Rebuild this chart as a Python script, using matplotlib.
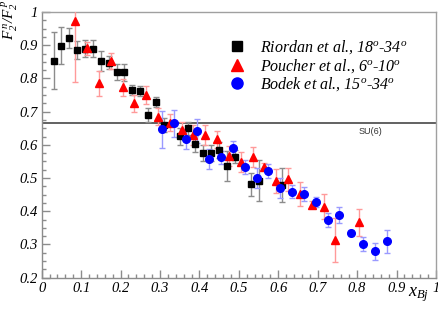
import matplotlib
matplotlib.use("Agg")
import matplotlib.pyplot as plt
from matplotlib.lines import Line2D
from matplotlib.ticker import MultipleLocator, FuncFormatter

plt.rcParams["font.family"] = "serif"
plt.rcParams["font.serif"] = ["Liberation Serif", "DejaVu Serif"]
plt.rcParams["font.style"] = "italic"
plt.rcParams["mathtext.fontset"] = "custom"
plt.rcParams["mathtext.rm"] = "Liberation Serif:italic"
plt.rcParams["mathtext.it"] = "Liberation Serif:italic"

# Riordan et al., 18-34 deg
riordan_x = [0.03, 0.05, 0.07, 0.09, 0.11, 0.13, 0.15, 0.17, 0.19, 0.21, 0.23, 0.25, 0.27,
             0.29, 0.31, 0.35, 0.37, 0.39, 0.41, 0.43, 0.45, 0.47, 0.49, 0.53, 0.55, 0.61]
riordan_y = [0.853, 0.899, 0.921, 0.885, 0.890, 0.890, 0.852, 0.847, 0.819, 0.818, 0.764, 0.761, 0.690,
             0.730, 0.660, 0.626, 0.650, 0.602, 0.575, 0.576, 0.585, 0.536, 0.564, 0.481, 0.492, 0.479]
riordan_err = [0.086, 0.057, 0.030, 0.027, 0.025, 0.025, 0.030, 0.020, 0.025, 0.025, 0.015, 0.015, 0.020,
               0.015, 0.020, 0.025, 0.020, 0.025, 0.025, 0.025, 0.025, 0.045, 0.020, 0.035, 0.062, 0.050]

# Poucher et al., 6-10 deg
poucher_x = [0.085, 0.115, 0.145, 0.175, 0.205, 0.235, 0.265, 0.295, 0.325, 0.355, 0.385, 0.415,
             0.445, 0.475, 0.505, 0.535, 0.565, 0.595, 0.625, 0.655, 0.685, 0.715, 0.745, 0.805]
poucher_y = [0.974, 0.891, 0.785, 0.852, 0.773, 0.725, 0.750, 0.685, 0.667, 0.645, 0.631, 0.629,
             0.617, 0.566, 0.549, 0.564, 0.534, 0.491, 0.496, 0.452, 0.420, 0.414, 0.313, 0.367]
poucher_err = [0.185, 0.020, 0.037, 0.025, 0.025, 0.025, 0.028, 0.025, 0.025, 0.025, 0.030, 0.030,
               0.025, 0.030, 0.030, 0.030, 0.010, 0.035, 0.035, 0.035, 0.010, 0.037, 0.066, 0.040]

# Bodek et al., 15-34 deg
bodek_x = [0.305, 0.335, 0.365, 0.395, 0.425, 0.455, 0.485, 0.515, 0.545, 0.575,
           0.605, 0.635, 0.665, 0.695, 0.725, 0.755, 0.785, 0.815, 0.845, 0.875]
bodek_y = [0.647, 0.665, 0.618, 0.642, 0.556, 0.562, 0.592, 0.533, 0.501, 0.521,
           0.471, 0.459, 0.452, 0.429, 0.374, 0.389, 0.335, 0.301, 0.279, 0.310]
bodek_err = [0.055, 0.040, 0.030, 0.036, 0.030, 0.020, 0.020, 0.020, 0.030, 0.020,
             0.030, 0.020, 0.020, 0.015, 0.020, 0.025, 0.010, 0.020, 0.025, 0.035]

su6 = 2.0 / 3.0

fig = plt.figure(figsize=(4.39, 3.12), dpi=100, facecolor="white")
ax = fig.add_axes([0.095, 0.110, 0.898, 0.8515])

ax.errorbar(riordan_x, riordan_y, yerr=riordan_err, fmt="s", color="black", ms=5,
            ecolor="#8c8c8c", elinewidth=1, capsize=2.2, capthick=1, zorder=3)
ax.errorbar(poucher_x, poucher_y, yerr=poucher_err, fmt="^", color="#ff0000", ms=5.5,
            ecolor="#ff9a9a", elinewidth=1, capsize=2.2, capthick=1, zorder=3)
ax.errorbar(bodek_x, bodek_y, yerr=bodek_err, fmt="o", color="#0000ff", ms=5.5,
            ecolor="#9a9aff", elinewidth=1, capsize=2.2, capthick=1, zorder=3)

ax.axhline(su6, color="#555555", lw=1.3, zorder=2)
ax.text(0.835, su6 - 0.012, "SU(6)", fontsize=6.5, family="Liberation Sans", style="normal",
        color="#333333", ha="center", va="top")

ax.set_xlim(0, 1)
ax.set_ylim(0.2, 1)
ax.xaxis.set_major_locator(MultipleLocator(0.1))
ax.xaxis.set_minor_locator(MultipleLocator(0.02))
ax.yaxis.set_major_locator(MultipleLocator(0.1))
ax.yaxis.set_minor_locator(MultipleLocator(0.025))
fmt = FuncFormatter(lambda v, p: "%g" % round(v, 2))
ax.xaxis.set_major_formatter(fmt)
ax.yaxis.set_major_formatter(fmt)
ax.tick_params(which="both", direction="in", color="#8c8c8c", top=False, right=False)
ax.tick_params(which="major", length=6, width=1, labelsize=10.5, pad=3)
ax.tick_params(which="minor", length=3, width=1)
for s in ax.spines.values():
    s.set_color("#a0a0a0")
    s.set_linewidth(1)
ax.spines["left"].set_color("#8c8c8c")
ax.spines["bottom"].set_color("#8c8c8c")

fig.text(0.978, 0.025, r"$x_{Bj}$", fontsize=13, ha="right", va="bottom")
fig.text(0.0, 1.0, r"$F_2^{\,n}/F_2^{\,p}$", fontsize=11, rotation=90, ha="left", va="top")

handles = [
    Line2D([0], [0], marker="s", color="black", ls="none", ms=7.5),
    Line2D([0], [0], marker="^", color="#ff0000", ls="none", ms=8),
    Line2D([0], [0], marker="o", color="#0000ff", ls="none", ms=8),
]
labels = ["Riordan et al., 18$^o$-34$^o$",
          "Poucher et al., 6$^o$-10$^o$",
          "Bodek et al., 15$^o$-34$^o$"]
leg = ax.legend(handles, labels, loc="upper left", bbox_to_anchor=(0.46, 0.93),
                frameon=False, handlelength=0.8, handletextpad=1.0, labelspacing=0.05,
                borderpad=0, prop={"size": 11.5})

fig.savefig("out.png", dpi=100, facecolor="white")
